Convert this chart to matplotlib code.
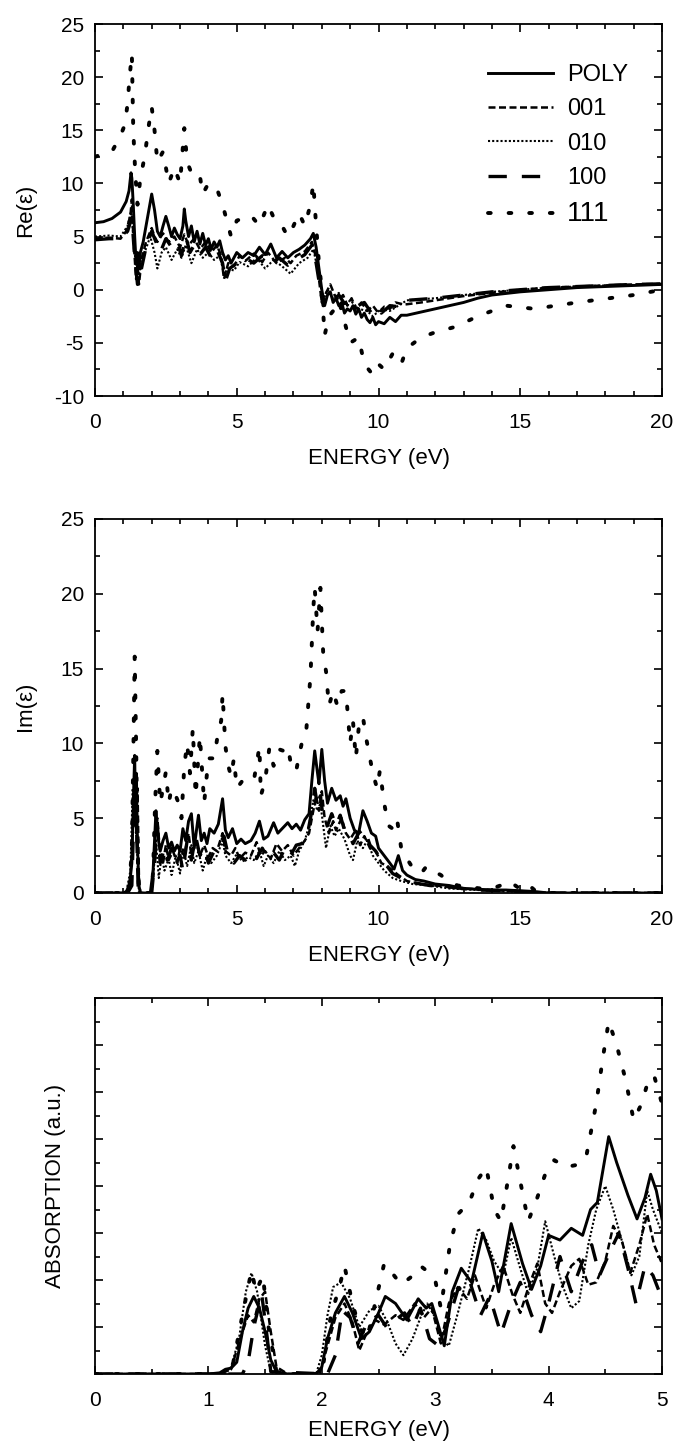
import matplotlib
matplotlib.use("Agg")
import matplotlib.pyplot as plt
from matplotlib.ticker import MultipleLocator, NullFormatter

plt.rcParams['font.family'] = ['Liberation Sans', 'DejaVu Sans']
plt.rcParams['axes.unicode_minus'] = False

# ---------------- Re(eps) panel data ----------------
re_poly_e = [0, 0.3, 0.6, 0.9, 1.1, 1.2, 1.27, 1.3, 1.35, 1.4, 1.45, 1.5, 1.55, 1.6, 1.7, 1.8, 1.9, 2.0, 2.1, 2.2,
             2.3, 2.4, 2.5, 2.6, 2.7, 2.8, 2.9, 3.0, 3.1, 3.15, 3.2, 3.3, 3.4, 3.5, 3.6, 3.7, 3.8, 3.9, 4.0, 4.1,
             4.2, 4.3, 4.4, 4.5, 4.6, 4.7, 4.8, 4.9, 5.0, 5.2, 5.4, 5.6, 5.8, 6.0, 6.2, 6.4, 6.6, 6.8, 7.0, 7.2,
             7.4, 7.6, 7.7, 7.8, 7.9, 8.0, 8.1, 8.2, 8.3, 8.4, 8.5, 8.6, 8.7, 8.8, 8.9, 9.0, 9.1, 9.2, 9.3, 9.4,
             9.5, 9.6, 9.7, 9.8, 9.9, 10.0, 10.2, 10.4, 10.6, 10.8, 11.0, 11.5, 12, 12.5, 13, 13.5, 14, 15, 16,
             17, 18, 19, 20]
re_poly = [6.3, 6.4, 6.7, 7.3, 8.3, 9.3, 11.0, 10.5, 8.0, 5.0, 2.5, 3.5, 2.0, 3.5, 4.5, 6.0, 7.5, 9.0, 7.5, 5.5,
           5.0, 6.0, 6.9, 6.0, 5.0, 5.8, 5.2, 4.8, 6.0, 7.6, 6.5, 5.0, 6.0, 4.5, 5.5, 4.3, 5.3, 4.2, 4.8, 3.8,
           4.5, 4.0, 4.6, 3.5, 2.8, 3.2, 2.5, 3.0, 3.5, 3.0, 3.5, 3.2, 4.0, 3.3, 4.3, 3.0, 3.6, 3.0, 3.5, 3.8,
           4.2, 4.8, 5.3, 4.0, 2.0, 0.0, -1.5, -0.5, -0.2, -1.2, -0.8, -1.5, -1.2, -2.2, -1.8, -2.0, -1.5, -2.3, -1.8, -2.6,
           -2.2, -2.8, -3.1, -2.6, -3.3, -3.0, -3.2, -2.6, -3.0, -2.4, -2.4, -2.1, -1.8, -1.5, -1.2, -0.8, -0.5, -0.2, 0.0,
           0.2, 0.3, 0.4, 0.5]

re_001_e = [0, 0.5, 0.9, 1.1, 1.25, 1.3, 1.35, 1.45, 1.5, 1.55, 1.65, 1.8, 2.0, 2.1, 2.2, 2.4, 2.6, 2.8, 3.0, 3.15,
            3.3, 3.5, 3.7, 3.9, 4.1, 4.3, 4.45, 4.55, 4.7, 4.9, 5.1, 5.3, 5.6, 5.9, 6.1, 6.4, 6.7, 6.9, 7.1, 7.4,
            7.65, 7.8, 7.9, 8.0, 8.15, 8.3, 8.45, 8.6, 8.75, 8.9, 9.05, 9.2, 9.4, 9.6, 9.8, 10.0, 10.2, 10.4, 10.6, 10.9,
            11.5, 12, 13, 14, 15, 16, 17, 18, 19, 20]
re_001 = [4.8, 4.9, 4.8, 5.5, 7.0, 8.5, 5.0, 1.0, 2.5, 0.5, 3.0, 4.5, 5.8, 5.0, 4.5, 5.3, 4.5, 5.0, 4.0, 5.2,
          4.2, 4.8, 3.8, 4.5, 3.5, 4.2, 3.2, 1.0, 2.5, 2.2, 3.2, 2.7, 3.4, 2.6, 3.5, 2.5, 3.0, 2.5, 3.2, 3.6,
          4.5, 3.0, 1.0, -1.2, -0.3, 0.5, -0.5, -1.0, -0.5, -1.5, -0.8, -1.8, -1.2, -2.0, -1.5, -2.2, -1.6, -1.8, -1.2, -1.4,
          -1.2, -1.0, -0.6, -0.3, 0.0, 0.2, 0.3, 0.4, 0.5, 0.55]

re_010_e = [0, 0.5, 0.9, 1.15, 1.28, 1.38, 1.5, 1.6, 1.75, 1.95, 2.1, 2.2, 2.35, 2.5, 2.7, 2.9, 3.05, 3.2, 3.4, 3.6,
            3.8, 4.0, 4.2, 4.4, 4.55, 4.7, 4.9, 5.1, 5.4, 5.7, 6.0, 6.3, 6.6, 6.9, 7.2, 7.5, 7.7, 7.85, 7.95, 8.05,
            8.2, 8.4, 8.6, 8.8, 9.0, 9.3, 9.6, 9.8, 10.1, 10.4, 10.7, 11, 12, 13, 14, 15, 16, 17, 18, 19, 20]
re_010 = [5.0, 5.1, 5.0, 6.0, 7.5, 4.0, 0.8, 2.0, 3.5, 5.0, 3.5, 2.0, 3.5, 4.0, 2.8, 3.8, 3.0, 4.2, 2.5, 3.8,
          3.0, 3.5, 2.8, 3.2, 1.5, 2.0, 1.8, 2.6, 2.2, 3.0, 2.0, 2.8, 2.2, 1.5, 2.5, 3.0, 3.8, 2.0, 0.5, -1.0,
          0.0, -0.8, -0.3, -1.5, -1.0, -1.8, -2.0, -2.5, -1.8, -2.0, -1.5, -1.0, -0.8, -0.5, -0.2, 0.0, 0.2, 0.3, 0.4, 0.45, 0.5]

re_100_e = [0, 0.5, 0.9, 1.15, 1.3, 1.4, 1.5, 1.6, 1.8, 2.0, 2.15, 2.3, 2.5, 2.7, 2.9, 3.05, 3.2, 3.35, 3.5, 3.7,
            3.9, 4.1, 4.3, 4.5, 4.6, 4.75, 5.0, 5.3, 5.6, 5.9, 6.2, 6.5, 6.8, 7.1, 7.4, 7.65, 7.8, 7.95, 8.05, 8.2,
            8.4, 8.6, 8.8, 9.0, 9.2, 9.5, 9.7, 9.9, 10.1, 10.4, 10.7, 11.0, 12, 13, 14, 15, 16, 17, 18, 19, 20]
re_100 = [4.7, 4.8, 4.8, 5.5, 6.8, 3.0, 0.5, 1.5, 4.0, 5.5, 4.5, 3.5, 4.8, 4.0, 4.5, 3.2, 5.0, 3.5, 4.2, 3.3,
          4.0, 3.0, 3.8, 2.5, 0.8, 2.0, 2.5, 3.0, 2.5, 3.2, 2.4, 3.0, 2.3, 2.8, 3.3, 4.2, 2.5, 0.0, -1.5, -0.5,
          -1.0, -0.5, -1.3, -1.0, -1.6, -1.2, -2.0, -1.5, -2.2, -1.5, -1.6, -1.0, -0.8, -0.5, -0.2, 0.0, 0.2, 0.3, 0.4, 0.5, 0.55]

re_111_e = [0, 0.3, 0.6, 0.9, 1.05, 1.15, 1.22, 1.3, 1.35, 1.42, 1.5, 1.6, 1.75, 1.9, 2.0, 2.1, 2.2, 2.4, 2.6, 2.8,
            3.0, 3.15, 3.25, 3.4, 3.55, 3.7, 3.8, 4.0, 4.3, 4.5, 4.7, 4.8, 5.0, 5.3, 5.5, 5.8, 6.1, 6.3, 6.5, 6.8,
            7.0, 7.2, 7.4, 7.6, 7.7, 7.8, 7.9, 8.0, 8.1, 8.25, 8.4, 8.6, 8.8, 9.0, 9.3, 9.5, 9.8, 10.0, 10.2, 10.5,
            10.8, 11.0, 11.5, 12, 12.7, 13.5, 14.5, 15.5, 17, 19, 20]
re_111 = [12.5, 12.8, 13.0, 14.5, 15.5, 17.5, 20.0, 22.2, 15.0, 11.0, 8.0, 10.5, 12.5, 15.5, 17.2, 15.0, 12.0, 13.0, 10.0, 11.5,
          10.0, 15.2, 12.0, 11.0, 10.5, 10.7, 9.0, 10.0, 9.5, 8.0, 6.0, 5.0, 6.5, 6.8, 7.0, 6.0, 8.0, 6.8, 6.5, 5.0,
          6.0, 7.2, 6.0, 8.0, 10.0, 6.0, 2.5, 0.0, -4.3, -2.5, -2.0, -1.0, -3.0, -5.0, -4.5, -7.0, -8.0, -7.0, -7.5, -6.0,
          -7.0, -5.5, -4.5, -4.0, -3.5, -2.5, -1.5, -1.8, -1.2, -0.5, 0.0]

# ---------------- Im(eps) panel data ----------------
im_poly_e = [0, 1.0, 1.2, 1.3, 1.35, 1.4, 1.43, 1.46, 1.5, 1.55, 1.6, 1.95, 2.05, 2.15, 2.2, 2.3, 2.4, 2.5, 2.6, 2.7,
             2.8, 2.9, 3.0, 3.1, 3.2, 3.3, 3.4, 3.5, 3.6, 3.65, 3.75, 3.85, 3.95, 4.05, 4.2, 4.35, 4.5, 4.6, 4.7, 4.85,
             5.0, 5.15, 5.3, 5.5, 5.65, 5.8, 5.95, 6.1, 6.3, 6.45, 6.6, 6.8, 6.95, 7.1, 7.25, 7.4, 7.55, 7.65, 7.75, 7.85,
             7.9, 8.0, 8.1, 8.2, 8.35, 8.5, 8.65, 8.75, 8.85, 9.0, 9.15, 9.3, 9.45, 9.6, 9.75, 9.9, 10.0, 10.2, 10.4, 10.55,
             10.7, 10.85, 11.0, 11.3, 11.6, 12.0, 12.5, 13, 13.5, 14, 14.5, 15, 15.5, 16, 20]
im_poly = [0, 0, 0.2, 2.0, 6.0, 9.2, 5.0, 8.0, 3.0, 0.5, 0, 0, 1.5, 5.5, 4.0, 2.8, 3.5, 4.0, 3.0, 3.4,
           2.8, 3.2, 2.8, 4.3, 3.5, 4.8, 5.3, 3.0, 4.5, 5.2, 3.5, 4.0, 3.3, 4.3, 4.0, 4.6, 6.3, 4.2, 3.7, 4.3,
           3.3, 3.6, 3.3, 3.5, 4.0, 4.8, 3.6, 3.8, 4.7, 4.0, 4.3, 4.7, 4.3, 4.6, 4.2, 4.9, 5.3, 7.5, 9.5, 8.0,
           7.3, 9.6, 7.5, 6.0, 7.0, 6.2, 6.5, 5.8, 6.3, 5.0, 4.2, 4.0, 5.5, 4.8, 4.0, 3.8, 3.0, 2.5, 2.0, 1.6,
           2.5, 1.5, 1.2, 0.9, 0.8, 0.6, 0.5, 0.3, 0.25, 0.2, 0.2, 0.15, 0.1, 0.0, 0.0]

im_001_e = [0, 1.1, 1.25, 1.35, 1.4, 1.45, 1.5, 1.55, 1.6, 2.0, 2.1, 2.2, 2.3, 2.4, 2.5, 2.6, 2.75, 2.9, 3.0, 3.15,
            3.3, 3.4, 3.55, 3.7, 3.85, 4.0, 4.15, 4.3, 4.5, 4.6, 4.8, 4.95, 5.1, 5.3, 5.5, 5.7, 5.85, 6.0, 6.2, 6.4,
            6.6, 6.8, 7.0, 7.2, 7.4, 7.55, 7.7, 7.8, 7.9, 8.0, 8.1, 8.25, 8.4, 8.5, 8.7, 8.85, 9.0, 9.2, 9.35, 9.5,
            9.7, 9.9, 10.1, 10.3, 10.5, 10.7, 11, 11.5, 12, 12.5, 13, 14, 15, 16, 20]
im_001 = [0, 0, 1.0, 5.0, 8.0, 4.0, 7.0, 1.0, 0, 0, 3.0, 5.0, 2.5, 2.0, 3.2, 2.2, 2.8, 2.0, 3.0, 2.5,
          4.0, 2.5, 3.5, 2.5, 3.2, 2.4, 3.0, 2.8, 4.0, 2.8, 2.5, 3.0, 2.3, 2.7, 2.5, 3.4, 2.5, 2.8, 2.3, 3.3,
          2.8, 3.2, 2.5, 3.0, 3.5, 4.0, 5.5, 6.5, 5.5, 6.8, 5.0, 4.0, 4.8, 4.2, 5.0, 4.0, 3.6, 4.2, 3.2, 3.8,
          3.0, 2.8, 2.0, 1.8, 1.5, 1.2, 0.8, 0.6, 0.5, 0.4, 0.3, 0.2, 0.1, 0, 0]

im_010_e = [0, 1.1, 1.25, 1.33, 1.38, 1.42, 1.5, 1.55, 2.0, 2.05, 2.15, 2.25, 2.35, 2.45, 2.6, 2.7, 2.85, 3.0, 3.1, 3.25,
            3.4, 3.5, 3.65, 3.8, 3.95, 4.1, 4.3, 4.5, 4.6, 4.8, 5.0, 5.2, 5.4, 5.6, 5.8, 5.95, 6.1, 6.3, 6.5, 6.7,
            6.9, 7.05, 7.2, 7.4, 7.55, 7.7, 7.85, 7.95, 8.05, 8.15, 8.3, 8.45, 8.6, 8.8, 9.0, 9.1, 9.25, 9.45, 9.6, 9.8,
            10.0, 10.2, 10.5, 10.8, 11.2, 11.8, 12.5, 13.5, 14.5, 15.5, 16, 20]
im_010 = [0, 0, 1.5, 7.0, 5.0, 8.0, 2.0, 0, 0, 1.0, 3.5, 1.0, 2.5, 1.5, 2.3, 1.2, 2.5, 1.3, 3.0, 1.8,
          3.2, 2.0, 2.8, 1.5, 2.5, 2.0, 2.5, 3.5, 2.5, 2.0, 2.6, 2.1, 2.4, 2.2, 2.8, 1.8, 2.5, 2.0, 2.8, 2.2,
          2.5, 1.8, 2.8, 3.5, 4.5, 6.2, 5.5, 6.0, 4.5, 3.0, 4.5, 3.8, 4.3, 3.6, 2.5, 2.2, 3.5, 3.0, 3.5, 2.5,
          2.0, 1.5, 1.0, 0.8, 0.6, 0.5, 0.3, 0.2, 0.1, 0.05, 0, 0]

im_100_e = [0, 1.15, 1.3, 1.38, 1.42, 1.47, 1.52, 1.6, 2.0, 2.1, 2.2, 2.3, 2.45, 2.55, 2.7, 2.85, 3.0, 3.1, 3.25, 3.4,
            3.55, 3.7, 3.85, 4.0, 4.2, 4.4, 4.55, 4.7, 4.9, 5.1, 5.3, 5.5, 5.7, 5.9, 6.1, 6.3, 6.5, 6.7, 6.9, 7.1,
            7.3, 7.5, 7.65, 7.75, 7.85, 7.95, 8.05, 8.2, 8.35, 8.5, 8.65, 8.8, 8.95, 9.1, 9.3, 9.5, 9.7, 9.9, 10.1, 10.3,
            10.5, 10.8, 11.2, 11.8, 12.5, 13.5, 14.5, 15.5, 16, 20]
im_100 = [0, 0, 0.5, 6.0, 7.5, 4.0, 0.5, 0, 0, 2.0, 4.5, 2.0, 3.0, 2.2, 3.0, 2.0, 2.5, 1.5, 3.5, 2.2,
          3.8, 2.5, 3.0, 2.0, 2.8, 3.3, 3.8, 2.5, 2.0, 2.5, 2.2, 2.7, 2.3, 3.0, 2.3, 2.7, 2.2, 3.0, 2.5, 3.2,
          3.3, 4.0, 5.5, 7.0, 5.8, 6.5, 5.0, 4.5, 5.3, 4.5, 5.2, 4.2, 4.0, 3.3, 4.0, 4.3, 3.2, 2.8, 2.2, 1.8,
          1.3, 1.0, 0.7, 0.5, 0.4, 0.2, 0.15, 0.05, 0, 0]

im_111_e = [0, 1.2, 1.3, 1.35, 1.4, 1.45, 1.5, 1.55, 2.0, 2.05, 2.12, 2.2, 2.3, 2.4, 2.5, 2.6, 2.7, 2.85, 2.95, 3.05,
            3.15, 3.25, 3.35, 3.45, 3.55, 3.7, 3.8, 3.85, 4.0, 4.2, 4.35, 4.45, 4.5, 4.6, 4.7, 4.8, 4.9, 5.0, 5.2, 5.4,
            5.6, 5.7, 5.8, 5.85, 6.0, 6.15, 6.3, 6.5, 6.65, 6.8, 6.95, 7.1, 7.2, 7.35, 7.45, 7.6, 7.7, 7.75, 7.85, 7.95,
            8.05, 8.15, 8.25, 8.4, 8.55, 8.7, 8.85, 9.0, 9.1, 9.2, 9.3, 9.45, 9.55, 9.7, 9.8, 9.95, 10.05, 10.2, 10.35, 10.5,
            10.65, 10.8, 11.0, 11.2, 11.5, 11.7, 11.9, 12.2, 12.5, 12.8, 13.2, 13.6, 14.0, 14.3, 14.6, 14.9, 15.2, 15.5, 16, 20]
im_111 = [0, 0, 3.0, 9.0, 15.8, 10.0, 3.0, 0, 0, 1.5, 6.0, 9.5, 6.0, 7.0, 8.1, 6.0, 7.0, 6.5, 6.0, 5.0,
          8.5, 10.0, 8.0, 11.0, 6.5, 10.5, 7.5, 6.0, 9.0, 9.0, 10.8, 11.5, 13.3, 9.8, 8.5, 7.8, 9.0, 7.0, 7.5, 7.6,
          7.5, 8.6, 9.8, 6.5, 7.5, 9.7, 8.5, 9.6, 9.5, 9.8, 8.2, 8.2, 9.2, 10.5, 10.8, 14.5, 19.0, 20.4, 17.5, 20.4,
          16.0, 14.8, 12.5, 13.5, 12.5, 13.5, 13.5, 10.0, 11.5, 9.0, 11.0, 11.8, 10.5, 9.0, 8.0, 7.0, 8.2, 6.0, 4.5, 4.3,
          5.0, 3.0, 2.3, 1.7, 1.3, 1.8, 1.5, 1.2, 0.7, 0.5, 0.4, 0.3, 0.3, 0.5, 0.8, 0.4, 0.7, 0.2, 0.0, 0.0]

# ---------------- Absorption panel data ----------------
ab_poly_e = [0, 1.0, 1.1, 1.15, 1.2, 1.25, 1.3, 1.35, 1.4, 1.45, 1.5, 1.55, 1.6, 1.7, 1.95, 2.0, 2.05, 2.12, 2.2, 2.27,
             2.35, 2.42, 2.5, 2.56, 2.65, 2.75, 2.85, 2.92, 2.97, 3.02, 3.08, 3.15, 3.23, 3.32, 3.42, 3.5, 3.56, 3.67, 3.77, 3.85,
             3.93, 4.0, 4.1, 4.2, 4.3, 4.37, 4.43, 4.53, 4.6, 4.7, 4.78, 4.85, 4.9, 4.95, 5.0]
ab_poly = [0, 0, 0.05, 0.2, 0.25, 0.5, 1.8, 2.8, 3.3, 2.8, 1.8, 0.6, 0.1, 0, 0, 0.3, 1.5, 2.6, 3.3, 2.6,
           1.5, 1.8, 2.6, 3.3, 3.0, 2.3, 3.2, 2.8, 3.0, 2.2, 1.2, 3.5, 4.5, 3.9, 6.0, 4.8, 3.5, 6.4, 4.7, 3.6,
           4.6, 5.9, 5.7, 6.2, 5.9, 7.0, 7.3, 10.1, 9.0, 7.6, 6.6, 7.5, 8.5, 7.8, 6.6]

ab_001_e = [0, 1.1, 1.2, 1.28, 1.35, 1.4, 1.45, 1.5, 1.55, 1.6, 1.7, 1.98, 2.05, 2.12, 2.2, 2.27, 2.33, 2.4, 2.47, 2.55,
            2.65, 2.72, 2.82, 2.9, 2.97, 3.05, 3.12, 3.2, 3.28, 3.35, 3.45, 3.52, 3.6, 3.68, 3.75, 3.83, 3.9, 3.97, 4.03, 4.1,
            4.2, 4.27, 4.35, 4.42, 4.5, 4.57, 4.65, 4.72, 4.8, 4.87, 4.93, 5.0]
ab_001 = [0, 0, 0.2, 1.5, 2.5, 2.2, 3.2, 3.5, 1.8, 0.3, 0, 0, 1.2, 2.4, 3.0, 2.2, 1.0, 1.8, 2.3, 2.1,
          2.5, 2.3, 3.0, 2.4, 2.8, 1.3, 3.0, 3.7, 3.2, 4.2, 2.8, 3.8, 4.6, 3.4, 2.6, 3.8, 4.7, 3.0, 2.6, 3.5,
          4.6, 4.9, 3.8, 3.9, 4.8, 6.3, 5.6, 4.3, 5.5, 6.8, 5.5, 4.7]

ab_010_e = [0, 1.15, 1.2, 1.27, 1.33, 1.38, 1.43, 1.5, 1.55, 1.6, 1.95, 2.0, 2.05, 2.1, 2.17, 2.25, 2.33, 2.42, 2.5, 2.58,
            2.65, 2.72, 2.8, 2.87, 2.93, 3.0, 3.05, 3.12, 3.2, 3.3, 3.38, 3.45, 3.52, 3.6, 3.67, 3.75, 3.82, 3.9, 3.97, 4.05,
            4.12, 4.2, 4.27, 4.35, 4.42, 4.5, 4.57, 4.65, 4.73, 4.8, 4.87, 4.92, 5.0]
ab_010 = [0, 0, 0.3, 1.5, 3.5, 4.3, 3.5, 1.2, 0.1, 0, 0, 0.8, 2.5, 3.7, 3.9, 3.2, 2.0, 2.7, 2.9, 2.2,
          1.3, 0.8, 1.5, 2.4, 3.0, 2.4, 1.5, 1.2, 2.6, 4.5, 6.2, 5.7, 4.8, 4.2, 5.8, 4.5, 3.4, 4.5, 6.5, 5.0,
          3.8, 2.8, 3.1, 5.5, 7.0, 8.0, 7.0, 5.6, 4.2, 5.0, 7.8, 7.0, 6.0]

ab_100_e = [0, 1.3, 1.35, 1.4, 1.47, 1.52, 1.55, 2.05, 2.12, 2.18, 2.25, 2.32, 2.4, 2.5, 2.57, 2.65, 2.73, 2.8, 2.87, 2.95,
            3.03, 3.1, 3.2, 3.3, 3.4, 3.48, 3.58, 3.67, 3.75, 3.85, 3.93, 4.0, 4.1, 4.2, 4.3, 4.38, 4.45, 4.55, 4.62, 4.7,
            4.77, 4.85, 4.92, 5.0]
ab_100 = [0, 0, 0.5, 2.0, 3.4, 1.5, 0.1, 0, 0.8, 2.7, 2.4, 1.3, 2.2, 2.5, 2.0, 2.3, 2.6, 2.0, 2.8, 1.5,
          1.2, 2.0, 3.6, 4.0, 2.5, 3.3, 1.7, 3.0, 3.9, 2.5, 1.8, 3.0, 5.0, 3.5, 4.8, 5.5, 4.2, 5.3, 6.0, 4.5,
          3.0, 4.6, 4.2, 3.2]

ab_111_e = [0, 1.15, 1.22, 1.3, 1.38, 1.42, 1.48, 1.53, 1.6, 1.7, 2.0, 2.08, 2.15, 2.2, 2.27, 2.33, 2.4, 2.47, 2.55, 2.62,
            2.7, 2.78, 2.87, 2.95, 3.0, 3.05, 3.13, 3.2, 3.3, 3.38, 3.45, 3.52, 3.58, 3.65, 3.69, 3.75, 3.82, 3.9, 3.97, 4.05,
            4.15, 4.25, 4.33, 4.42, 4.48, 4.53, 4.6, 4.68, 4.75, 4.82, 4.88, 4.93, 5.0]
ab_111 = [0, 0, 0.5, 2.5, 4.4, 3.5, 4.2, 2.0, 0.1, 0, 0, 2.5, 3.6, 4.6, 3.0, 2.0, 1.5, 3.0, 4.7, 4.3,
          3.8, 4.1, 4.6, 4.3, 4.0, 2.8, 5.5, 6.8, 7.3, 8.3, 8.8, 7.0, 6.5, 8.5, 9.7, 8.2, 6.5, 7.5, 8.5, 9.1,
          8.8, 8.9, 9.2, 11.5, 13.5, 15.0, 14.0, 12.5, 10.8, 11.5, 12.5, 12.7, 11.5]

labels = ['POLY', '001', '010', '100', '111']
styles = [
    dict(linestyle='-', linewidth=2.1),
    dict(linestyle=(0, (2.8, 1.4)), linewidth=1.8),
    dict(linestyle=(0, (1, 1.0)), linewidth=1.5),
    dict(linestyle=(0, (5.5, 4.5)), linewidth=2.4),
    dict(linestyle=(0, (0.7, 4.6)), linewidth=2.8, dash_capstyle='round'),
]

fig = plt.figure(figsize=(6.76, 14.43), dpi=100)
W, H = 676.0, 1443.0

def make_ax(top_px, bot_px):
    return fig.add_axes([95 / W, 1 - bot_px / H, (662 - 95) / W, (bot_px - top_px) / H])

ax1 = make_ax(24, 396)
ax2 = make_ax(519, 893)
ax3 = make_ax(998, 1374)

panels = [
    (ax1, [(re_poly_e, re_poly), (re_001_e, re_001), (re_010_e, re_010), (re_100_e, re_100), (re_111_e, re_111)]),
    (ax2, [(im_poly_e, im_poly), (im_001_e, im_001), (im_010_e, im_010), (im_100_e, im_100), (im_111_e, im_111)]),
    (ax3, [(ab_poly_e, ab_poly), (ab_001_e, ab_001), (ab_010_e, ab_010), (ab_100_e, ab_100), (ab_111_e, ab_111)]),
]

for ax, series in panels:
    for (x, y), lab, st in zip(series, labels, styles):
        ax.plot(x, y, color='black', label=lab, **st)
    for sp in ax.spines.values():
        sp.set_linewidth(1.3)
    ax.tick_params(which='both', direction='in', top=True, right=True, width=1.2, labelsize=15)
    ax.tick_params(axis='x', which='both', pad=12)
    ax.tick_params(axis='y', which='both', pad=8)
    ax.tick_params(which='major', length=6)
    ax.tick_params(which='minor', length=3.5)
    ax.set_xlabel('ENERGY (eV)', fontsize=16)

ax1.set_xlim(0, 20)
ax1.set_ylim(-10, 25)
ax1.xaxis.set_major_locator(MultipleLocator(5))
ax1.xaxis.set_minor_locator(MultipleLocator(1))
ax1.yaxis.set_major_locator(MultipleLocator(5))
ax1.yaxis.set_minor_locator(MultipleLocator(2.5))
ax1.set_ylabel('Re(ε)', fontsize=16)

ax2.set_xlim(0, 20)
ax2.set_ylim(0, 25)
ax2.xaxis.set_major_locator(MultipleLocator(5))
ax2.xaxis.set_minor_locator(MultipleLocator(1))
ax2.yaxis.set_major_locator(MultipleLocator(5))
ax2.yaxis.set_minor_locator(MultipleLocator(2.5))
ax2.set_ylabel('Im(ε)', fontsize=16)

ax3.set_xlim(0, 5)
ax3.set_ylim(0, 16)
ax3.xaxis.set_major_locator(MultipleLocator(1))
ax3.xaxis.set_minor_locator(MultipleLocator(0.5))
ax3.yaxis.set_major_locator(MultipleLocator(2))
ax3.yaxis.set_minor_locator(MultipleLocator(1))
ax3.yaxis.set_major_formatter(NullFormatter())
ax3.set_ylabel('ABSORPTION (a.u.)', fontsize=16)

for ax in (ax1, ax2):
    ax.yaxis.set_label_coords(-0.104, 0.5)
ax3.yaxis.set_label_coords(-0.051, 0.5)
for ax in (ax1, ax2):
    ax.xaxis.set_label_coords(0.5, -0.14)
ax3.xaxis.set_label_coords(0.5, -0.122)

leg = ax1.legend(loc='upper left', bbox_to_anchor=(0.693, 0.892), frameon=False, fontsize=17,
                 handlelength=2.75, handletextpad=0.6, labelspacing=0.52, borderaxespad=0, borderpad=0)
leg.get_texts()[4].set_fontsize(20)

fig.savefig('out.png', dpi=100)
